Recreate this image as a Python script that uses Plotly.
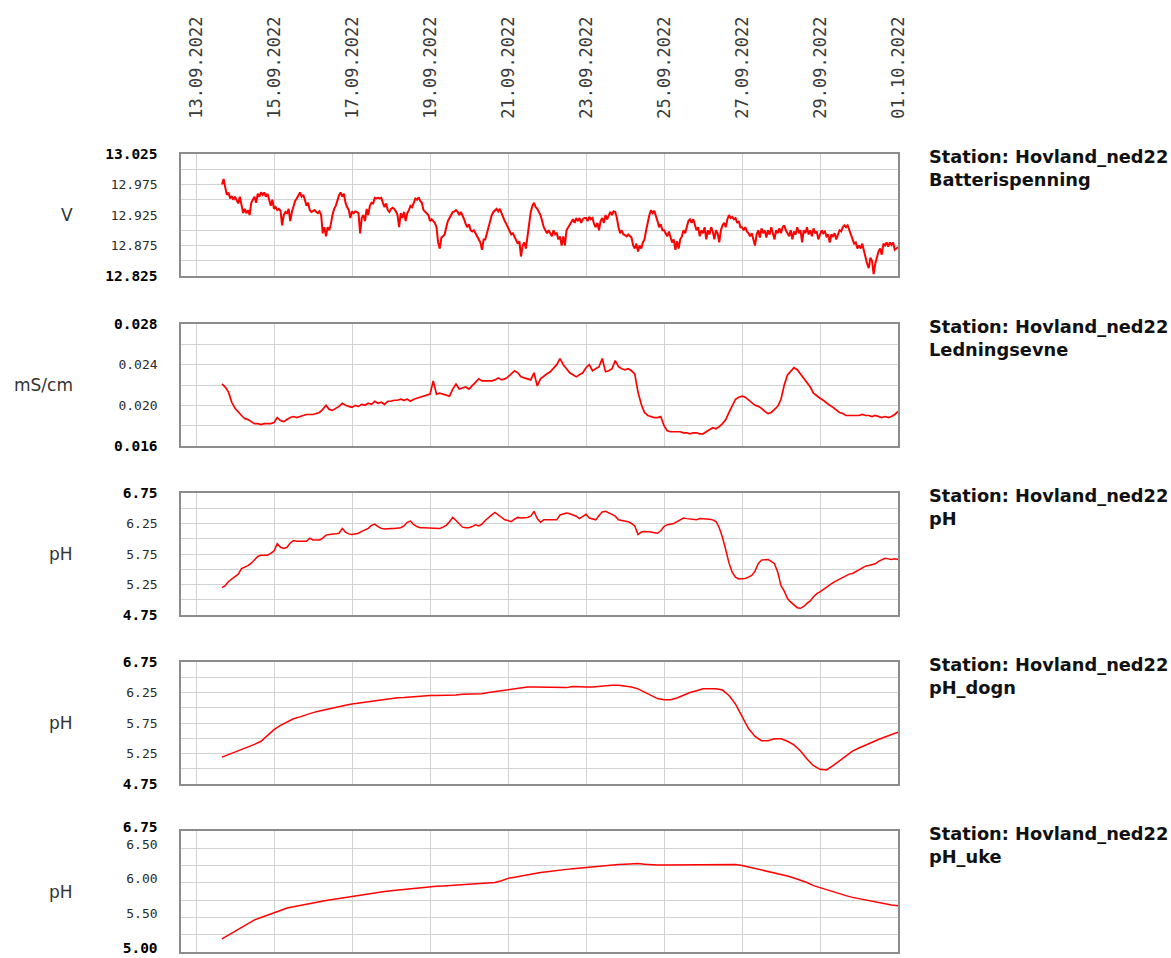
import pandas as pd
import plotly.graph_objects as go

# ---------------------------------------------------------------------------
# Station Hovland_ned22, 13.09.2022 16:00 - 01.10.2022 00:00
# ---------------------------------------------------------------------------
SERIES_START = "2022-09-13 16:00"

# Battery voltage [V], hourly (one row per half day)
battery_v = [
    12.975, 12.984, 12.970, 12.958, 12.962, 12.952, 12.956, 12.950,
    12.955, 12.950, 12.944, 12.955, 12.940, 12.928, 12.935, 12.928, 12.933, 12.925, 12.945, 12.950,
    12.955, 12.945, 12.960, 12.955, 12.962, 12.958, 12.962, 12.955, 12.960, 12.950, 12.940, 12.950,
    12.935, 12.938, 12.933, 12.935, 12.932, 12.908, 12.925, 12.930, 12.928, 12.935, 12.915, 12.930,
    12.940, 12.948, 12.952, 12.958, 12.962, 12.955, 12.958, 12.950, 12.940, 12.945, 12.933, 12.930,
    12.931, 12.933, 12.930, 12.928, 12.931, 12.925, 12.895, 12.905, 12.890, 12.905, 12.900, 12.910,
    12.925, 12.935, 12.940, 12.950, 12.957, 12.962, 12.955, 12.960, 12.945, 12.938, 12.933, 12.920,
    12.931, 12.928, 12.931, 12.930, 12.928, 12.895, 12.920, 12.925, 12.915, 12.935, 12.925, 12.940,
    12.945, 12.944, 12.953, 12.952, 12.953, 12.952, 12.953, 12.945, 12.938, 12.944, 12.933, 12.930,
    12.935, 12.937, 12.935, 12.931, 12.925, 12.905, 12.928, 12.920, 12.930, 12.915, 12.928, 12.933,
    12.940, 12.938, 12.945, 12.952, 12.950, 12.954, 12.948, 12.945, 12.933, 12.930, 12.928, 12.925,
    12.915, 12.918, 12.915, 12.912, 12.905, 12.880, 12.870, 12.888, 12.890, 12.893, 12.905, 12.915,
    12.920, 12.925, 12.930, 12.931, 12.933, 12.930, 12.925, 12.930, 12.925, 12.918, 12.910, 12.905,
    12.910, 12.900, 12.898, 12.900, 12.895, 12.890, 12.885, 12.880, 12.868, 12.885, 12.885, 12.895,
    12.908, 12.915, 12.925, 12.930, 12.933, 12.935, 12.931, 12.935, 12.928, 12.920, 12.915, 12.910,
    12.905, 12.900, 12.893, 12.895, 12.890, 12.885, 12.878, 12.882, 12.857, 12.875, 12.880, 12.870,
    12.890, 12.910, 12.930, 12.940, 12.945, 12.938, 12.935, 12.930, 12.925, 12.915, 12.905, 12.900,
    12.895, 12.900, 12.895, 12.890, 12.900, 12.893, 12.895, 12.885, 12.890, 12.875, 12.890, 12.875,
    12.900, 12.905, 12.910, 12.915, 12.918, 12.912, 12.920, 12.915, 12.920, 12.912, 12.918, 12.920,
    12.920, 12.915, 12.922, 12.918, 12.920, 12.910, 12.905, 12.912, 12.900, 12.915, 12.920, 12.912,
    12.925, 12.918, 12.925, 12.930, 12.925, 12.931, 12.930, 12.920, 12.905, 12.895, 12.900, 12.893,
    12.892, 12.890, 12.893, 12.890, 12.888, 12.875, 12.870, 12.878, 12.865, 12.875, 12.870, 12.880,
    12.885, 12.900, 12.915, 12.925, 12.933, 12.928, 12.932, 12.925, 12.915, 12.905, 12.910, 12.900,
    12.900, 12.895, 12.890, 12.898, 12.888, 12.880, 12.885, 12.868, 12.882, 12.870, 12.885, 12.890,
    12.900, 12.895, 12.905, 12.915, 12.918, 12.912, 12.918, 12.910, 12.900, 12.905, 12.890, 12.900,
    12.895, 12.905, 12.885, 12.900, 12.893, 12.905, 12.898, 12.885, 12.900, 12.895, 12.880, 12.900,
    12.908, 12.912, 12.905, 12.918, 12.925, 12.920, 12.922, 12.918, 12.920, 12.912, 12.915, 12.905,
    12.905, 12.900, 12.905, 12.898, 12.895, 12.890, 12.895, 12.885, 12.875, 12.893, 12.900, 12.888,
    12.903, 12.895, 12.900, 12.888, 12.900, 12.893, 12.905, 12.895, 12.885, 12.900, 12.895, 12.903,
    12.895, 12.905, 12.908, 12.900, 12.895, 12.890, 12.900, 12.885, 12.898, 12.893, 12.905, 12.895,
    12.900, 12.880, 12.900, 12.895, 12.905, 12.893, 12.900, 12.890, 12.903, 12.895, 12.898, 12.885,
    12.893, 12.900, 12.895, 12.898, 12.890, 12.893, 12.880, 12.893, 12.890, 12.895, 12.885, 12.893,
    12.900, 12.898, 12.905, 12.908, 12.905, 12.908, 12.900, 12.895, 12.885, 12.878, 12.880, 12.870,
    12.875, 12.870, 12.878, 12.865, 12.858, 12.845, 12.838, 12.855, 12.850, 12.828, 12.845, 12.855,
    12.865, 12.870, 12.860, 12.878, 12.875, 12.880, 12.873, 12.880, 12.876, 12.880, 12.868, 12.870,
    12.872,
]

# Conductivity [mS/cm], every 2 hours
conductivity = [
    0.0221, 0.0218, 0.0213, 0.0203,
    0.0197, 0.0193, 0.0190, 0.0187, 0.0186, 0.0184, 0.0182, 0.0182, 0.0181, 0.0182, 0.0182, 0.0182,
    0.0183, 0.0188, 0.0185, 0.0184, 0.0186, 0.0188, 0.0189, 0.0188, 0.0189, 0.0190, 0.0191, 0.0191,
    0.0191, 0.0192, 0.0193, 0.0196, 0.0200, 0.0196, 0.0195, 0.0197, 0.0199, 0.0202, 0.0200, 0.0199,
    0.0198, 0.0200, 0.0199, 0.0201, 0.0200, 0.0202, 0.0201, 0.0204, 0.0202, 0.0203, 0.0201, 0.0204,
    0.0204, 0.0205, 0.0205, 0.0206, 0.0205, 0.0206, 0.0204, 0.0206, 0.0207, 0.0208, 0.0209, 0.0210,
    0.0211, 0.0224, 0.0211, 0.0212, 0.0211, 0.0210, 0.0209, 0.0216, 0.0221, 0.0216, 0.0217, 0.0218,
    0.0216, 0.0219, 0.0222, 0.0226, 0.0224, 0.0224, 0.0224, 0.0224, 0.0225, 0.0227, 0.0225, 0.0226,
    0.0228, 0.0231, 0.0234, 0.0232, 0.0228, 0.0227, 0.0226, 0.0225, 0.0232, 0.0219, 0.0226, 0.0229,
    0.0231, 0.0233, 0.0236, 0.0240, 0.0246, 0.0240, 0.0236, 0.0232, 0.0230, 0.0228, 0.0230, 0.0232,
    0.0237, 0.0240, 0.0234, 0.0236, 0.0238, 0.0246, 0.0233, 0.0234, 0.0236, 0.0244, 0.0238, 0.0236,
    0.0235, 0.0236, 0.0234, 0.0231, 0.0213, 0.0201, 0.0193, 0.0190, 0.0189, 0.0188, 0.0188, 0.0189,
    0.0180, 0.0175, 0.0174, 0.0174, 0.0174, 0.0174, 0.0173, 0.0173, 0.0172, 0.0173, 0.0173, 0.0172,
    0.0172, 0.0174, 0.0176, 0.0178, 0.0177, 0.0179, 0.0182, 0.0186, 0.0193, 0.0200, 0.0206, 0.0208,
    0.0209, 0.0208, 0.0205, 0.0203, 0.0200, 0.0199, 0.0197, 0.0194, 0.0192, 0.0193, 0.0196, 0.0199,
    0.0206, 0.0220, 0.0230, 0.0234, 0.0237, 0.0235, 0.0231, 0.0227, 0.0222, 0.0218, 0.0212, 0.0209,
    0.0207, 0.0205, 0.0202, 0.0200, 0.0198, 0.0195, 0.0193, 0.0192, 0.0190, 0.0190, 0.0190, 0.0190,
    0.0190, 0.0191, 0.0190, 0.0190, 0.0189, 0.0190, 0.0189, 0.0188, 0.0189, 0.0188, 0.0189, 0.0191,
    0.0194,
]

# pH, every 2 hours
ph = [
    5.20, 5.23, 5.30, 5.34,
    5.38, 5.42, 5.51, 5.53, 5.56, 5.60, 5.65, 5.71, 5.73, 5.73, 5.73, 5.76,
    5.80, 5.92, 5.86, 5.84, 5.86, 5.93, 5.97, 5.96, 5.96, 5.96, 5.96, 6.01,
    5.98, 5.98, 5.98, 6.01, 6.06, 6.07, 6.07, 6.08, 6.09, 6.17, 6.11, 6.08,
    6.07, 6.08, 6.09, 6.12, 6.14, 6.17, 6.22, 6.24, 6.20, 6.17, 6.16, 6.17,
    6.17, 6.17, 6.18, 6.18, 6.21, 6.27, 6.29, 6.23, 6.20, 6.18, 6.18, 6.18,
    6.18, 6.18, 6.17, 6.17, 6.19, 6.22, 6.28, 6.35, 6.30, 6.24, 6.19, 6.18,
    6.18, 6.20, 6.23, 6.21, 6.24, 6.30, 6.35, 6.39, 6.43, 6.39, 6.35, 6.31,
    6.30, 6.28, 6.32, 6.35, 6.34, 6.34, 6.35, 6.37, 6.45, 6.33, 6.27, 6.31,
    6.31, 6.31, 6.31, 6.31, 6.39, 6.40, 6.42, 6.41, 6.39, 6.37, 6.33, 6.36,
    6.40, 6.34, 6.33, 6.31, 6.38, 6.44, 6.45, 6.43, 6.40, 6.37, 6.31, 6.30,
    6.29, 6.28, 6.25, 6.21, 6.07, 6.11, 6.12, 6.12, 6.11, 6.10, 6.09, 6.13,
    6.20, 6.23, 6.24, 6.25, 6.28, 6.31, 6.34, 6.33, 6.32, 6.32, 6.31, 6.33,
    6.33, 6.33, 6.32, 6.31, 6.28, 6.18, 6.02, 5.82, 5.60, 5.45, 5.37, 5.34,
    5.34, 5.35, 5.37, 5.40, 5.47, 5.59, 5.65, 5.66, 5.66, 5.63, 5.59, 5.45,
    5.23, 5.14, 5.02, 4.96, 4.91, 4.87, 4.86, 4.89, 4.94, 4.98, 5.05, 5.10,
    5.13, 5.17, 5.21, 5.24, 5.28, 5.31, 5.34, 5.37, 5.39, 5.42, 5.43, 5.46,
    5.49, 5.51, 5.55, 5.56, 5.57, 5.59, 5.63, 5.66, 5.68, 5.67, 5.66, 5.67,
    5.66,
]

# Daily-filtered pH, every 4 hours
ph_dogn = [
    5.19, 5.23,
    5.28, 5.32, 5.36, 5.40, 5.45, 5.55,
    5.64, 5.71, 5.77, 5.82, 5.85, 5.89,
    5.92, 5.945, 5.97, 6.00, 6.02, 6.04,
    6.06, 6.075, 6.09, 6.11, 6.13, 6.14,
    6.155, 6.165, 6.17, 6.18, 6.19, 6.20,
    6.20, 6.20, 6.20, 6.20, 6.21, 6.22,
    6.22, 6.225, 6.23, 6.25, 6.265, 6.28,
    6.30, 6.32, 6.33, 6.34, 6.34, 6.34,
    6.33, 6.33, 6.33, 6.33, 6.35, 6.34,
    6.34, 6.34, 6.35, 6.37, 6.37, 6.37,
    6.36, 6.34, 6.31, 6.26, 6.20, 6.15,
    6.13, 6.13, 6.16, 6.21, 6.25, 6.28,
    6.31, 6.31, 6.31, 6.29, 6.20, 6.06,
    5.86, 5.66, 5.53, 5.46, 5.46, 5.49,
    5.49, 5.45, 5.39, 5.29, 5.16, 5.05,
    4.99, 4.98, 5.05, 5.13, 5.21, 5.29,
    5.34, 5.39, 5.44, 5.48, 5.52, 5.56,
    5.60,
]

# Weekly-filtered pH, every 4 hours
ph_uke = [
    5.19, 5.245,
    5.30, 5.36, 5.415, 5.465, 5.50, 5.53,
    5.565, 5.60, 5.635, 5.655, 5.675, 5.69,
    5.71, 5.725, 5.745, 5.76, 5.775, 5.79,
    5.81, 5.82, 5.835, 5.845, 5.86, 5.875,
    5.885, 5.895, 5.91, 5.92, 5.925, 5.935,
    5.94, 5.95, 5.955, 5.96, 5.97, 5.975,
    5.98, 5.985, 5.99, 5.995, 6.005, 6.03,
    6.065, 6.08, 6.10, 6.115, 6.13, 6.15,
    6.16, 6.175, 6.185, 6.195, 6.205, 6.215,
    6.225, 6.235, 6.24, 6.25, 6.255, 6.265,
    6.27, 6.28, 6.28, 6.27, 6.26, 6.26,
    6.26, 6.26, 6.26, 6.27, 6.27, 6.27,
    6.27, 6.27, 6.27, 6.27, 6.27, 6.265,
    6.25, 6.23, 6.205, 6.185, 6.165, 6.145,
    6.12, 6.10, 6.07, 6.04, 6.005, 5.96,
    5.93, 5.895, 5.865, 5.84, 5.815, 5.79,
    5.77, 5.755, 5.74, 5.72, 5.70, 5.68,
    5.67,
]

# Y-axis grid values and their labels
batt_ticks = [12.825, 12.85, 12.875, 12.9, 12.925, 12.95, 12.975, 13.0, 13.025]
batt_labels = ["12.825", "", "12.875", "", "12.925", "", "12.975", "", "13.025"]
cond_ticks = [0.016, 0.018, 0.020, 0.022, 0.024, 0.026, 0.028]
cond_labels = ["0.016", "", "0.020", "", "0.024", "", "0.028"]
ph_ticks = [4.75, 5.0, 5.25, 5.5, 5.75, 6.0, 6.25, 6.5, 6.75]
ph_labels = ["4.75", "", "5.25", "", "5.75", "", "6.25", "", "6.75"]
uke_ticks = [5.0, 5.25, 5.5, 5.75, 6.0, 6.25, 6.5, 6.75]
uke_labels = ["5.00", "", "5.50", "", "6.00", "", "6.50", "6.75"]

station = "Station: Hovland_ned22"
panel_names = ["Batterispenning", "Ledningsevne", "pH", "pH_dogn", "pH_uke"]
unit_labels = ["V", "mS/cm", "pH", "pH", "pH"]

# ---------------------------------------------------------------------------
W, H = 1171, 958
M_L, M_R, M_T, M_B = 181, 273, 154, 6
plot_w = W - M_L - M_R
plot_h = H - M_T - M_B
panel_px = [(154, 276), (324, 446), (493, 615), (662, 784), (831, 952)]
line_widths = [2.0, 1.7, 1.5, 1.5, 1.5]
# lift the labels of the lowest panel a little so they stay on the page
label_shift = [0, 0, 0, 0, -4]


def py(y):
    """page pixel row -> paper fraction"""
    return (H - M_B - y) / plot_h


def px(x):
    return (x - M_L) / plot_w


def label_text(labels):
    out = []
    for i, lab in enumerate(labels):
        if i == 0 or i == len(labels) - 1:
            out.append(f'<span style="font-size:14.5px;fill:#000"><b>{lab}</b></span>')
        else:
            out.append(lab)
    return out


series = [
    (pd.date_range(SERIES_START, periods=len(battery_v), freq="h"), battery_v,
     batt_ticks, batt_labels),
    (pd.date_range(SERIES_START, periods=len(conductivity), freq="2h"), conductivity,
     cond_ticks, cond_labels),
    (pd.date_range(SERIES_START, periods=len(ph), freq="2h"), ph, ph_ticks, ph_labels),
    (pd.date_range(SERIES_START, periods=len(ph_dogn), freq="4h"), ph_dogn, ph_ticks, ph_labels),
    (pd.date_range(SERIES_START, periods=len(ph_uke), freq="4h"), ph_uke, uke_ticks, uke_labels),
]

fig = go.Figure()
GRID = "#d2d2d2"
FRAME = "#8c8c8c"
x_range = ["2022-09-12 14:46", "2022-10-01 00:00"]
annotations = []
layout = {}

for i, (t, v, ticks, labels) in enumerate(series):
    n = i + 1
    xa = "x" if n == 1 else f"x{n}"
    ya = "y" if n == 1 else f"y{n}"
    fig.add_trace(go.Scatter(x=t, y=v, mode="lines", xaxis=xa, yaxis=ya,
                             line=dict(color="#ff0000", width=line_widths[i]),
                             showlegend=False, hoverinfo="x+y"))
    top, bot = panel_px[i]
    layout[f"xaxis{'' if n == 1 else n}"] = dict(
        domain=[0, 1], anchor=ya, range=x_range, type="date",
        tickmode="linear", tick0="2022-09-13", dtick=2 * 86400000,
        tickformat="%d.%m.%Y", tickangle=-90, side="top",
        showticklabels=(n == 1), ticks="", ticklabelstandoff=30,
        tickfont=dict(family="DejaVu Sans Mono", size=17, color="#3a3a3a"),
        showgrid=True, gridcolor=GRID, gridwidth=1,
        minor=dict(showgrid=False, ticks=""),
        showline=True, mirror=True, linecolor=FRAME, linewidth=1.6,
        zeroline=False, fixedrange=True,
        **({} if n == 1 else {"matches": "x"}),
    )
    layout[f"yaxis{'' if n == 1 else n}"] = dict(
        domain=[py(bot), py(top)], anchor=xa,
        range=[ticks[0], ticks[-1]], tickmode="array",
        tickvals=ticks, ticktext=label_text(labels),
        ticks="", ticklabelstandoff=19, ticklabeloverflow="allow",
        ticklabelshift=label_shift[i],
        tickfont=dict(family="DejaVu Sans Mono", size=13, color="#2a2a2a"),
        showgrid=True, gridcolor=GRID, gridwidth=1,
        minor=dict(showgrid=False, ticks=""),
        showline=True, mirror=True, linecolor=FRAME, linewidth=1.6,
        zeroline=False, fixedrange=True,
    )
    mid = (top + bot) / 2
    annotations.append(dict(
        text=unit_labels[i], xref="paper", yref="paper", x=px(75), y=py(mid),
        xanchor="right", yanchor="middle", showarrow=False,
        font=dict(family="DejaVu Sans", size=17, color="#333333")))
    annotations.append(dict(
        text=f"<b>{station}<br>{panel_names[i]}</b>", xref="paper", yref="paper",
        x=px(927), y=py(top + 14), xanchor="left", yanchor="middle", align="left",
        showarrow=False, font=dict(family="DejaVu Sans", size=17.8, color="#111111")))

fig.update_layout(
    width=W, height=H, autosize=False,
    margin=dict(l=M_L, r=M_R, t=M_T, b=M_B, autoexpand=False),
    paper_bgcolor="white", plot_bgcolor="white",
    annotations=annotations, **layout,
)

fig.write_html("out.html", config={"displayModeBar": False})
